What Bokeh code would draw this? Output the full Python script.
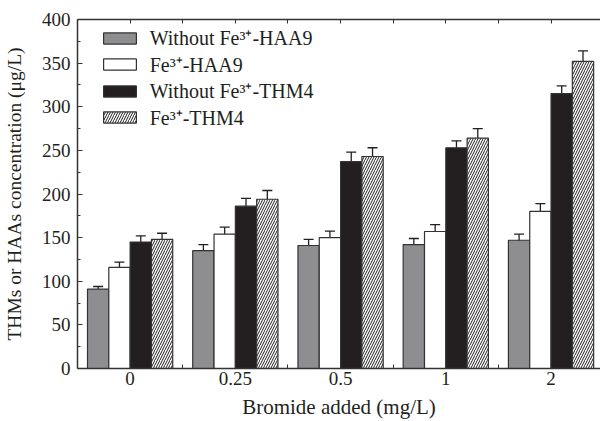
from bokeh.plotting import figure
from bokeh.models import (ColumnDataSource, Whisker, TeeHead, FixedTicker, LinearAxis,
                          Range1d, Legend, LegendItem)
from bokeh.embed import file_html
from bokeh.resources import INLINE

# ---- data ----
categories = ["0", "0.25", "0.5", "1", "2"]
series_names = ["Without Fe\u00b3\u207a-HAA9", "Fe\u00b3\u207a-HAA9",
                "Without Fe\u00b3\u207a-THM4", "Fe\u00b3\u207a-THM4"]
haa9_without = [91, 135, 141, 142, 147]
haa9_without_err = [3, 7, 7, 7, 7]
haa9_fe = [116, 154, 150, 157, 180]
haa9_fe_err = [6, 8, 7.5, 8, 9]
thm4_without = [145, 186, 237, 253, 315]
thm4_without_err = [7, 9, 11, 8, 9]
thm4_fe = [148, 194, 243, 264, 352]
thm4_fe_err = [7, 10, 10, 11, 12]
y_ticks = [0, 50, 100, 150, 200, 250, 300, 350, 400]

values = [haa9_without, haa9_fe, thm4_without, thm4_fe]
errors = [haa9_without_err, haa9_fe_err, thm4_without_err, thm4_fe_err]

FONT = "Liberation Serif"
INK = "#231f20"
styles = [
    dict(fill_color="#8e8e90"),
    dict(fill_color="white"),
    dict(fill_color=INK),
    dict(fill_color="white", hatch_pattern="/", hatch_color=INK, hatch_scale=5, hatch_weight=1),
]

p = figure(width=600, height=421, output_backend="svg", toolbar_location=None,
           x_range=Range1d(-0.5, 4.47), y_range=Range1d(0, 400),
           min_border_left=72, min_border_right=0, min_border_top=19, min_border_bottom=52)
p.outline_line_color = None
p.xgrid.visible = False
p.ygrid.visible = False
p.background_fill_color = "white"

bw = 0.2025
idx = list(range(len(categories)))
renderers = []
for k, (vals, errs, st) in enumerate(zip(values, errors, styles)):
    off = (k - 1.5) * bw
    xs = [i + off for i in idx]
    src = ColumnDataSource(dict(x=xs, top=vals,
                                upper=[v + e for v, e in zip(vals, errs)],
                                lower=[v - e for v, e in zip(vals, errs)]))
    r = p.vbar(x="x", top="top", width=bw, source=src, line_color="#333333",
               line_width=1.2, **st)
    renderers.append(r)
    w = Whisker(source=src, base="x", upper="upper", lower="lower",
                line_color=INK, line_width=1.3,
                upper_head=TeeHead(size=10, line_color=INK, line_width=1.3),
                lower_head=TeeHead(size=10, line_color=INK, line_width=1.3))
    p.add_layout(w)

# x axis (bottom)
xa = p.xaxis[0]
xa.ticker = FixedTicker(ticks=idx, minor_ticks=[i + 0.5 for i in idx[:-1]])
xa.major_label_overrides = {i: c for i, c in zip(idx, categories)}
xa.major_tick_in = 0
xa.major_tick_out = 0
xa.minor_tick_in = 4
xa.minor_tick_out = 0
xa.axis_label = "Bromide added (mg/L)"

# y axis (left)
ya = p.yaxis[0]
ya.ticker = FixedTicker(ticks=y_ticks, minor_ticks=[t + 25 for t in y_ticks[:-1]])
ya.major_tick_in = 5
ya.major_tick_out = 0
ya.minor_tick_in = 3
ya.minor_tick_out = 0
ya.axis_label = "THMs or HAAs concentration (\u03bcg/L)"

for a in (xa, ya):
    a.axis_line_color = "#333333"
    a.axis_line_width = 1.5
    a.major_tick_line_color = "#333333"
    a.minor_tick_line_color = "#333333"
    a.major_label_text_font = FONT
    a.major_label_text_font_size = "19px"
    a.major_label_text_color = INK
    a.axis_label_text_font = FONT
    a.axis_label_text_font_style = "normal"
    a.axis_label_text_color = INK
xa.axis_label_text_font_size = "21px"
ya.axis_label_text_font_size = "19.5px"
xa.major_label_text_line_height = 0.8
xa.axis_label_text_line_height = 0.8
xa.major_label_standoff = 3
xa.axis_label_standoff = 7
ya.major_label_standoff = 7
ya.axis_label_standoff = 14

# top axis (ticks only)
ta = LinearAxis(ticker=FixedTicker(ticks=idx, minor_ticks=[i + 0.5 for i in idx[:-1]]),
                major_label_text_font_size="0px", major_tick_in=4, major_tick_out=0,
                minor_tick_in=4, minor_tick_out=0, axis_line_color="#333333",
                axis_line_width=1.5, major_tick_line_color="#333333",
                minor_tick_line_color="#333333", major_label_standoff=0)
ta.major_label_overrides = {i: "" for i in idx}
p.add_layout(ta, "above")

# legend: one single-row legend per series so that the row pitch can be set
row_h = 40
for i, (n, r) in enumerate(zip(series_names, renderers)):
    center_from_top = 19.7 + 26.5 * i
    lg = Legend(items=[LegendItem(label=n, renderers=[r])],
                location=(21.7, 350 - center_from_top - row_h / 2), margin=0, padding=0,
                spacing=0, glyph_width=41, glyph_height=14, label_height=row_h,
                label_standoff=10, label_text_font=FONT, label_text_font_size="20px",
                label_text_color=INK, border_line_color=None, background_fill_alpha=0)
    p.add_layout(lg)

open("out.html", "w").write(file_html(p, INLINE))
